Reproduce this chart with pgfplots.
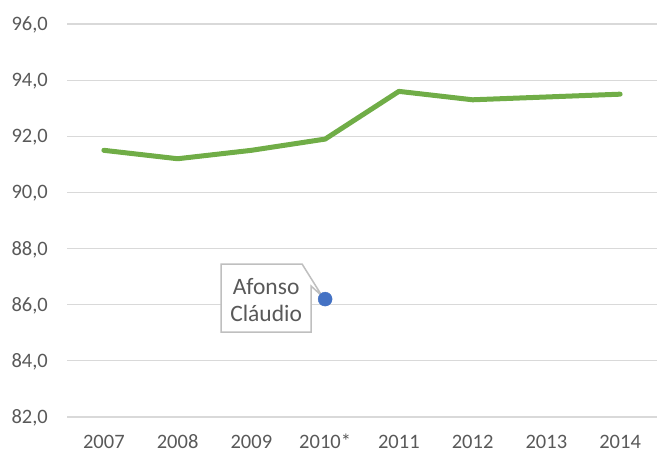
\documentclass[border=0pt]{standalone}
\usepackage{pgfplots}
\pgfplotsset{compat=1.18}
\usepackage{fontspec}
\setmainfont{Carlito}
\definecolor{gridc}{HTML}{D9D9D9}
\definecolor{txt}{HTML}{595959}
\definecolor{lgreen}{HTML}{70AD47}
\definecolor{lblue}{HTML}{4472C4}
\definecolor{cbord}{HTML}{BFBFBF}
\begin{document}
\begin{tikzpicture}
\begin{axis}[at={(0,0)}, anchor=south west, scale only axis,
  width=590bp, height=393bp,
  xmin=-0.5, xmax=7.5, ymin=82, ymax=96,
  xtick={0,...,7},
  xticklabels={2007,2008,2009,2010*,2011,2012,2013,2014},
  ytick={82,84,...,96},
  yticklabel={\pgfmathprintnumber[fixed,fixed zerofill,precision=1,use comma,assume math mode=true]{\tick}},
  ymajorgrids, grid style={gridc, line width=1.2bp},
  axis line style={draw=none}, major tick length=0pt,
  tick label style={font=\fontsize{20.5bp}{24bp}\selectfont, text=txt, inner sep=0pt},
  yticklabel style={anchor=base east, xshift=-19bp, yshift=-6.5bp},
  xticklabel style={anchor=base, yshift=-31bp},
  clip=false]
\addplot[lgreen, line width=5bp, line cap=round, line join=round] coordinates {
 (0,91.5) (1,91.2) (2,91.5) (3,91.9) (4,93.6) (5,93.3) (6,93.4) (7,93.5)};
\coordinate (p) at (axis cs:3,86.2);
\draw[cbord, line width=1.5bp, fill=white] ([shift={(-104bp,35bp)}]p) -- ([shift={(-23bp,35bp)}]p) -- ([shift={(-3bp,3bp)}]p) -- ([shift={(-14bp,13bp)}]p) -- ([shift={(-14bp,-33bp)}]p) -- ([shift={(-104bp,-33bp)}]p) -- cycle;
\node[anchor=base, text=txt, font=\fontsize{23.5bp}{28bp}\selectfont, inner sep=0pt] at ([shift={(-59bp,5bp)}]p) {Afonso};
\node[anchor=base, text=txt, font=\fontsize{23.5bp}{28bp}\selectfont, inner sep=0pt] at ([shift={(-59bp,-22.7bp)}]p) {Cláudio};
\addplot[only marks, mark=*, mark size=7bp, mark options={draw=lblue, fill=lblue}] coordinates {(3,86.2)};
\end{axis}
\pgfresetboundingbox
\path[use as bounding box] (-67bp,-36bp) rectangle (590bp,417bp);
\end{tikzpicture}
\end{document}
